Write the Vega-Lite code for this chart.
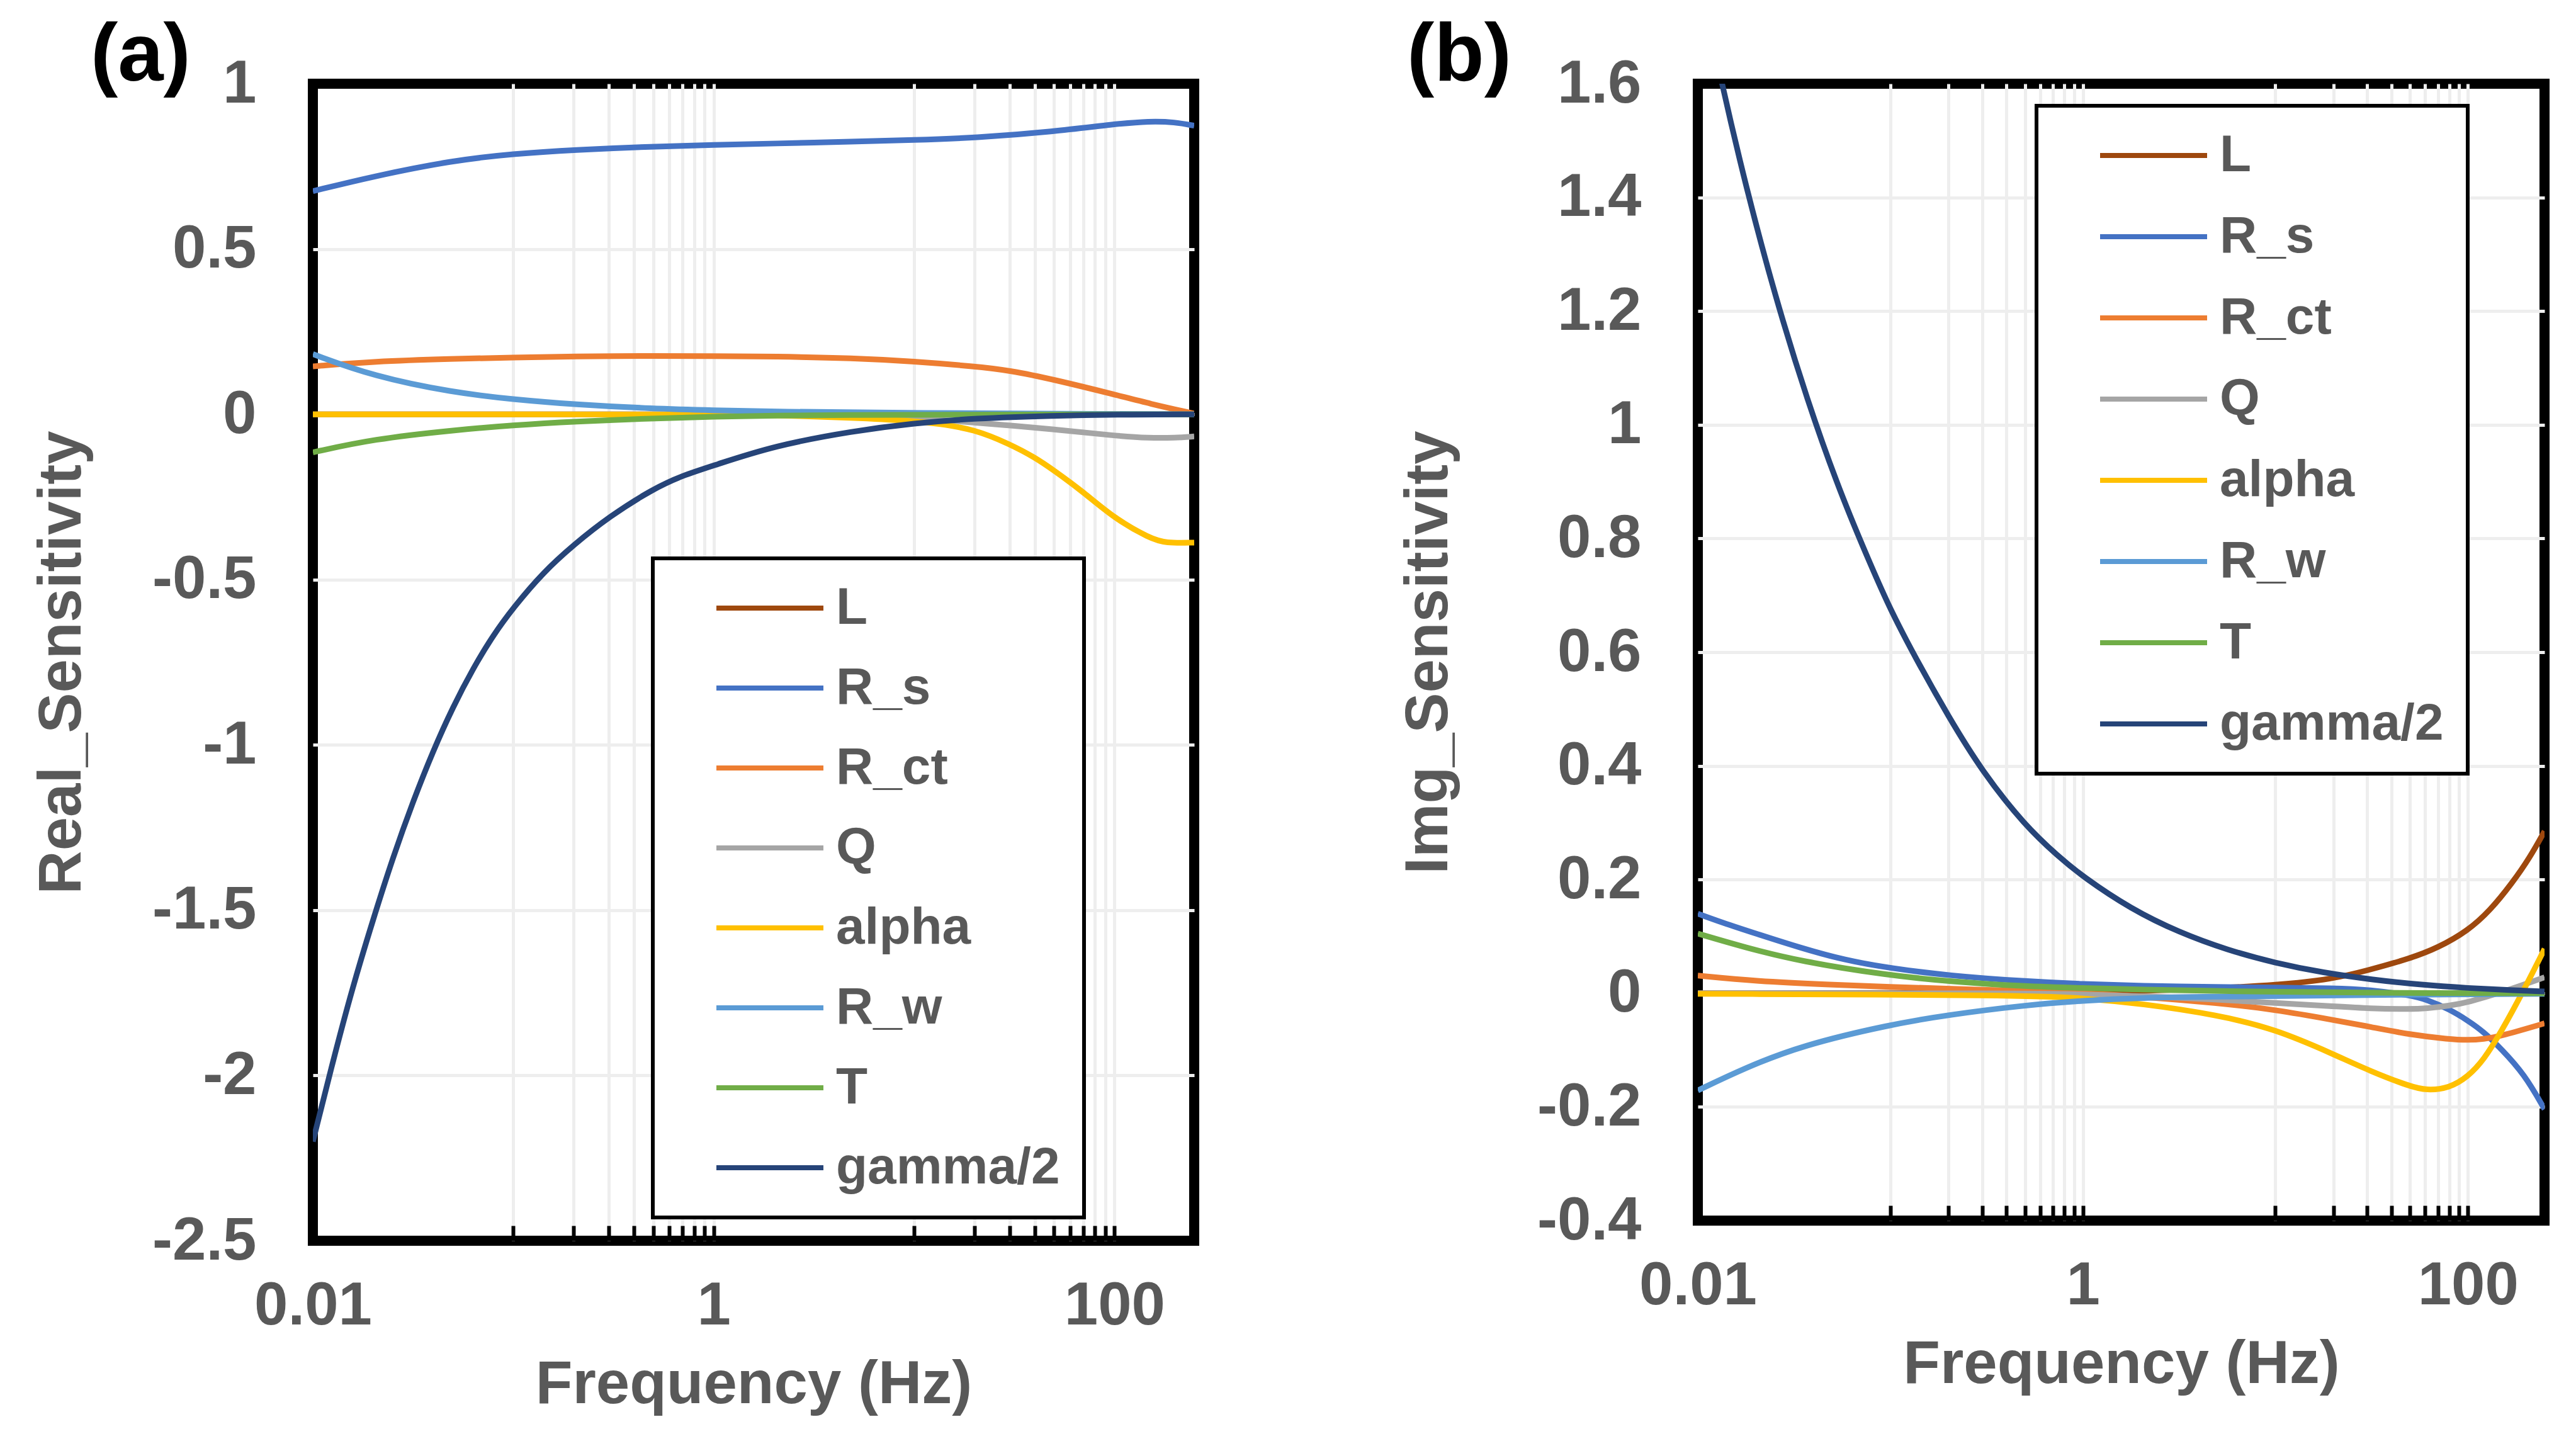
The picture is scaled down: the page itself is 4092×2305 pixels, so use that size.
{
  "$schema": "https://vega.github.io/schema/vega-lite/v6.json",
  "background": "white",
  "padding": {"left": 42, "top": 16, "right": 0, "bottom": 0},
  "datasets": {
    "real": [
      {"s": "L", "f": 0.01, "v": 0}, {"s": "L", "f": 1, "v": 0}, {"s": "L", "f": 250, "v": 0},
      {"s": "R_s", "f": 0.01, "v": 0.675}, {"s": "R_s", "f": 0.02, "v": 0.72}, {"s": "R_s", "f": 0.05, "v": 0.768},
      {"s": "R_s", "f": 0.1, "v": 0.788}, {"s": "R_s", "f": 0.2, "v": 0.8}, {"s": "R_s", "f": 0.5, "v": 0.81},
      {"s": "R_s", "f": 1, "v": 0.815}, {"s": "R_s", "f": 2, "v": 0.819}, {"s": "R_s", "f": 5, "v": 0.825},
      {"s": "R_s", "f": 10, "v": 0.83}, {"s": "R_s", "f": 20, "v": 0.836}, {"s": "R_s", "f": 50, "v": 0.855},
      {"s": "R_s", "f": 100, "v": 0.878}, {"s": "R_s", "f": 150, "v": 0.887}, {"s": "R_s", "f": 200, "v": 0.884},
      {"s": "R_s", "f": 250, "v": 0.873},
      {"s": "R_ct", "f": 0.01, "v": 0.145}, {"s": "R_ct", "f": 0.02, "v": 0.16}, {"s": "R_ct", "f": 0.05, "v": 0.168},
      {"s": "R_ct", "f": 0.1, "v": 0.172}, {"s": "R_ct", "f": 0.2, "v": 0.175}, {"s": "R_ct", "f": 0.5, "v": 0.177},
      {"s": "R_ct", "f": 1, "v": 0.176}, {"s": "R_ct", "f": 2, "v": 0.175}, {"s": "R_ct", "f": 5, "v": 0.17},
      {"s": "R_ct", "f": 10, "v": 0.16}, {"s": "R_ct", "f": 20, "v": 0.145}, {"s": "R_ct", "f": 30, "v": 0.133},
      {"s": "R_ct", "f": 50, "v": 0.105}, {"s": "R_ct", "f": 100, "v": 0.06}, {"s": "R_ct", "f": 150, "v": 0.032},
      {"s": "R_ct", "f": 250, "v": 0.002},
      {"s": "Q", "f": 0.01, "v": 0}, {"s": "Q", "f": 1, "v": 0}, {"s": "Q", "f": 2, "v": -0.002},
      {"s": "Q", "f": 5, "v": -0.005}, {"s": "Q", "f": 10, "v": -0.01}, {"s": "Q", "f": 20, "v": -0.025},
      {"s": "Q", "f": 50, "v": -0.045}, {"s": "Q", "f": 100, "v": -0.065}, {"s": "Q", "f": 150, "v": -0.072},
      {"s": "Q", "f": 200, "v": -0.071}, {"s": "Q", "f": 250, "v": -0.067},
      {"s": "alpha", "f": 0.01, "v": 0}, {"s": "alpha", "f": 1, "v": 0}, {"s": "alpha", "f": 2, "v": -0.003},
      {"s": "alpha", "f": 5, "v": -0.01}, {"s": "alpha", "f": 10, "v": -0.02}, {"s": "alpha", "f": 13, "v": -0.028},
      {"s": "alpha", "f": 20, "v": -0.045}, {"s": "alpha", "f": 30, "v": -0.09}, {"s": "alpha", "f": 40, "v": -0.13},
      {"s": "alpha", "f": 50, "v": -0.17}, {"s": "alpha", "f": 70, "v": -0.235}, {"s": "alpha", "f": 100, "v": -0.315},
      {"s": "alpha", "f": 150, "v": -0.375}, {"s": "alpha", "f": 180, "v": -0.39}, {"s": "alpha", "f": 250, "v": -0.388},
      {"s": "R_w", "f": 0.01, "v": 0.182}, {"s": "R_w", "f": 0.02, "v": 0.115}, {"s": "R_w", "f": 0.05, "v": 0.066},
      {"s": "R_w", "f": 0.1, "v": 0.045}, {"s": "R_w", "f": 0.2, "v": 0.03}, {"s": "R_w", "f": 0.5, "v": 0.017},
      {"s": "R_w", "f": 1, "v": 0.012}, {"s": "R_w", "f": 2, "v": 0.008}, {"s": "R_w", "f": 10, "v": 0.004},
      {"s": "R_w", "f": 100, "v": 0.001}, {"s": "R_w", "f": 250, "v": 0},
      {"s": "T", "f": 0.01, "v": -0.115}, {"s": "T", "f": 0.02, "v": -0.075}, {"s": "T", "f": 0.05, "v": -0.048},
      {"s": "T", "f": 0.1, "v": -0.033}, {"s": "T", "f": 0.2, "v": -0.022}, {"s": "T", "f": 0.5, "v": -0.012},
      {"s": "T", "f": 1, "v": -0.007}, {"s": "T", "f": 2, "v": -0.004}, {"s": "T", "f": 5, "v": -0.002},
      {"s": "T", "f": 10, "v": -0.001}, {"s": "T", "f": 250, "v": 0},
      {"s": "gamma/2", "f": 0.01, "v": -2.2}, {"s": "gamma/2", "f": 0.0126, "v": -1.956}, {"s": "gamma/2", "f": 0.0158, "v": -1.732},
      {"s": "gamma/2", "f": 0.02, "v": -1.527}, {"s": "gamma/2", "f": 0.0251, "v": -1.34}, {"s": "gamma/2", "f": 0.0316, "v": -1.171},
      {"s": "gamma/2", "f": 0.0398, "v": -1.018}, {"s": "gamma/2", "f": 0.0501, "v": -0.884}, {"s": "gamma/2", "f": 0.0631, "v": -0.768},
      {"s": "gamma/2", "f": 0.0794, "v": -0.668}, {"s": "gamma/2", "f": 0.1, "v": -0.585}, {"s": "gamma/2", "f": 0.141, "v": -0.478},
      {"s": "gamma/2", "f": 0.2, "v": -0.395}, {"s": "gamma/2", "f": 0.3, "v": -0.31}, {"s": "gamma/2", "f": 0.5, "v": -0.225},
      {"s": "gamma/2", "f": 0.7, "v": -0.185}, {"s": "gamma/2", "f": 1, "v": -0.155}, {"s": "gamma/2", "f": 2, "v": -0.095},
      {"s": "gamma/2", "f": 5, "v": -0.05}, {"s": "gamma/2", "f": 10, "v": -0.027}, {"s": "gamma/2", "f": 20, "v": -0.012},
      {"s": "gamma/2", "f": 50, "v": -0.004}, {"s": "gamma/2", "f": 100, "v": -0.001}, {"s": "gamma/2", "f": 250, "v": 0}
    ],
    "img": [
      {"s": "L", "f": 0.01, "v": 0}, {"s": "L", "f": 1, "v": 0.001}, {"s": "L", "f": 2, "v": 0.004},
      {"s": "L", "f": 5, "v": 0.009}, {"s": "L", "f": 10, "v": 0.014}, {"s": "L", "f": 20, "v": 0.025},
      {"s": "L", "f": 30, "v": 0.04}, {"s": "L", "f": 50, "v": 0.061}, {"s": "L", "f": 70, "v": 0.08},
      {"s": "L", "f": 100, "v": 0.11}, {"s": "L", "f": 130, "v": 0.145}, {"s": "L", "f": 170, "v": 0.194},
      {"s": "L", "f": 210, "v": 0.239}, {"s": "L", "f": 250, "v": 0.285},
      {"s": "R_s", "f": 0.01, "v": 0.14}, {"s": "R_s", "f": 0.0132, "v": 0.125}, {"s": "R_s", "f": 0.02, "v": 0.105},
      {"s": "R_s", "f": 0.034, "v": 0.08}, {"s": "R_s", "f": 0.058, "v": 0.058}, {"s": "R_s", "f": 0.1, "v": 0.044},
      {"s": "R_s", "f": 0.2, "v": 0.031}, {"s": "R_s", "f": 0.5, "v": 0.021}, {"s": "R_s", "f": 1, "v": 0.016},
      {"s": "R_s", "f": 2, "v": 0.013}, {"s": "R_s", "f": 5, "v": 0.011}, {"s": "R_s", "f": 10, "v": 0.01},
      {"s": "R_s", "f": 20, "v": 0.009}, {"s": "R_s", "f": 31, "v": 0.0064}, {"s": "R_s", "f": 50, "v": -0.0035},
      {"s": "R_s", "f": 61, "v": -0.011}, {"s": "R_s", "f": 80, "v": -0.028}, {"s": "R_s", "f": 100, "v": -0.048},
      {"s": "R_s", "f": 121, "v": -0.068}, {"s": "R_s", "f": 149, "v": -0.098}, {"s": "R_s", "f": 196, "v": -0.142},
      {"s": "R_s", "f": 250, "v": -0.204},
      {"s": "R_ct", "f": 0.01, "v": 0.031}, {"s": "R_ct", "f": 0.02, "v": 0.021}, {"s": "R_ct", "f": 0.05, "v": 0.015},
      {"s": "R_ct", "f": 0.1, "v": 0.011}, {"s": "R_ct", "f": 0.2, "v": 0.008}, {"s": "R_ct", "f": 0.5, "v": 0.004},
      {"s": "R_ct", "f": 1, "v": 0.0005}, {"s": "R_ct", "f": 2, "v": -0.006}, {"s": "R_ct", "f": 5, "v": -0.017},
      {"s": "R_ct", "f": 10, "v": -0.029}, {"s": "R_ct", "f": 20, "v": -0.047}, {"s": "R_ct", "f": 31, "v": -0.059},
      {"s": "R_ct", "f": 50, "v": -0.073}, {"s": "R_ct", "f": 80, "v": -0.081}, {"s": "R_ct", "f": 100, "v": -0.0825},
      {"s": "R_ct", "f": 120, "v": -0.081}, {"s": "R_ct", "f": 150, "v": -0.075}, {"s": "R_ct", "f": 250, "v": -0.053},
      {"s": "Q", "f": 0.01, "v": 0}, {"s": "Q", "f": 0.5, "v": 0}, {"s": "Q", "f": 1, "v": -0.002},
      {"s": "Q", "f": 2, "v": -0.005}, {"s": "Q", "f": 5, "v": -0.011}, {"s": "Q", "f": 10, "v": -0.017},
      {"s": "Q", "f": 20, "v": -0.023}, {"s": "Q", "f": 31, "v": -0.027}, {"s": "Q", "f": 50, "v": -0.028},
      {"s": "Q", "f": 61, "v": -0.027}, {"s": "Q", "f": 80, "v": -0.022}, {"s": "Q", "f": 100, "v": -0.016},
      {"s": "Q", "f": 150, "v": 0.0015}, {"s": "Q", "f": 250, "v": 0.028},
      {"s": "alpha", "f": 0.01, "v": -0.001}, {"s": "alpha", "f": 0.5, "v": -0.0035}, {"s": "alpha", "f": 1, "v": -0.0085},
      {"s": "alpha", "f": 2, "v": -0.018}, {"s": "alpha", "f": 5, "v": -0.038}, {"s": "alpha", "f": 10, "v": -0.063},
      {"s": "alpha", "f": 20, "v": -0.107}, {"s": "alpha", "f": 31, "v": -0.137}, {"s": "alpha", "f": 50, "v": -0.164},
      {"s": "alpha", "f": 61, "v": -0.171}, {"s": "alpha", "f": 80, "v": -0.167}, {"s": "alpha", "f": 100, "v": -0.147},
      {"s": "alpha", "f": 121, "v": -0.117}, {"s": "alpha", "f": 149, "v": -0.068}, {"s": "alpha", "f": 196, "v": 0.0065},
      {"s": "alpha", "f": 250, "v": 0.078},
      {"s": "R_w", "f": 0.01, "v": -0.171}, {"s": "R_w", "f": 0.0174, "v": -0.132}, {"s": "R_w", "f": 0.0344, "v": -0.092},
      {"s": "R_w", "f": 0.1, "v": -0.055}, {"s": "R_w", "f": 0.2, "v": -0.038}, {"s": "R_w", "f": 0.5, "v": -0.021},
      {"s": "R_w", "f": 1, "v": -0.013}, {"s": "R_w", "f": 2, "v": -0.008}, {"s": "R_w", "f": 5, "v": -0.006},
      {"s": "R_w", "f": 10, "v": -0.005}, {"s": "R_w", "f": 31, "v": -0.003}, {"s": "R_w", "f": 250, "v": -0.001},
      {"s": "T", "f": 0.01, "v": 0.105}, {"s": "T", "f": 0.0174, "v": 0.081}, {"s": "T", "f": 0.034, "v": 0.056},
      {"s": "T", "f": 0.1, "v": 0.031}, {"s": "T", "f": 0.2, "v": 0.021}, {"s": "T", "f": 0.5, "v": 0.012},
      {"s": "T", "f": 1, "v": 0.009}, {"s": "T", "f": 2, "v": 0.0064}, {"s": "T", "f": 5, "v": 0.004},
      {"s": "T", "f": 10, "v": 0.0025}, {"s": "T", "f": 30, "v": 0.0005}, {"s": "T", "f": 250, "v": 0},
      {"s": "gamma/2", "f": 0.01, "v": 1.8}, {"s": "gamma/2", "f": 0.0133, "v": 1.6}, {"s": "gamma/2", "f": 0.0178, "v": 1.418},
      {"s": "gamma/2", "f": 0.0252, "v": 1.226}, {"s": "gamma/2", "f": 0.0371, "v": 1.042}, {"s": "gamma/2", "f": 0.0549, "v": 0.88},
      {"s": "gamma/2", "f": 0.081, "v": 0.745}, {"s": "gamma/2", "f": 0.1, "v": 0.675}, {"s": "gamma/2", "f": 0.135, "v": 0.59},
      {"s": "gamma/2", "f": 0.2, "v": 0.487}, {"s": "gamma/2", "f": 0.3, "v": 0.39}, {"s": "gamma/2", "f": 0.5, "v": 0.295},
      {"s": "gamma/2", "f": 0.75, "v": 0.24}, {"s": "gamma/2", "f": 1, "v": 0.205}, {"s": "gamma/2", "f": 1.78, "v": 0.148},
      {"s": "gamma/2", "f": 3.16, "v": 0.107}, {"s": "gamma/2", "f": 5.62, "v": 0.076}, {"s": "gamma/2", "f": 10, "v": 0.053},
      {"s": "gamma/2", "f": 17.8, "v": 0.036}, {"s": "gamma/2", "f": 31.6, "v": 0.024}, {"s": "gamma/2", "f": 56.2, "v": 0.015},
      {"s": "gamma/2", "f": 100, "v": 0.009}, {"s": "gamma/2", "f": 178, "v": 0.005}, {"s": "gamma/2", "f": 250, "v": 0.003}
    ]
  },
  "hconcat": [
    {
      "title": {"text": "(a)", "dx": 94, "offset": -70},
      "width": 1400,
      "height": 1838,
      "data": {"name": "real"},
      "mark": {"type": "line", "interpolate": "basis", "strokeWidth": 9, "clip": true},
      "encoding": {
        "x": {
          "field": "f",
          "type": "quantitative",
          "title": "Frequency (Hz)",
          "scale": {"type": "log", "domain": [0.01, 250], "nice": false},
          "axis": {"values": [0.01, 0.1, 0.2, 0.3, 0.4, 0.5, 0.6, 0.7, 0.8, 0.9, 1, 10, 20, 30, 40, 50, 60, 70, 80, 90, 100]}
        },
        "y": {
          "field": "v",
          "type": "quantitative",
          "title": "Real_Sensitivity",
          "scale": {"domain": [-2.5, 1], "nice": false, "zero": false},
          "axis": {
            "values": [-2.5, -2, -1.5, -1, -0.5, 0, 0.5, 1],
            "titlePadding": 150,
            "gridColor": {"condition": {"test": "datum.value == 1 || datum.value == -2.5", "value": "transparent"}, "value": "#EEEEEE"}
          }
        },
        "color": {
          "field": "s",
          "type": "nominal",
          "sort": null,
          "scale": {
            "domain": ["L", "R_s", "R_ct", "Q", "alpha", "R_w", "T", "gamma/2"],
            "range": ["#9E480E", "#4472C4", "#ED7D31", "#A5A5A5", "#FFC000", "#5B9BD5", "#70AD47", "#264478"]
          },
          "legend": {"legendX": 540, "legendY": 754, "rowPadding": 45}
        }
      }
    },
    {
      "title": {"text": "(b)", "dx": 14, "offset": -70},
      "width": 1345,
      "height": 1806,
      "data": {"name": "img"},
      "mark": {"type": "line", "interpolate": "basis", "strokeWidth": 9, "clip": true},
      "encoding": {
        "x": {
          "field": "f",
          "type": "quantitative",
          "title": "Frequency (Hz)",
          "scale": {"type": "log", "domain": [0.01, 250], "nice": false},
          "axis": {"values": [0.01, 0.1, 0.2, 0.3, 0.4, 0.5, 0.6, 0.7, 0.8, 0.9, 1, 10, 20, 30, 40, 50, 60, 70, 80, 90, 100]}
        },
        "y": {
          "field": "v",
          "type": "quantitative",
          "title": "Img_Sensitivity",
          "scale": {"domain": [-0.4, 1.6], "nice": false, "zero": false},
          "axis": {
            "values": [-0.4, -0.2, 0, 0.2, 0.4, 0.6, 0.8, 1, 1.2, 1.4, 1.6],
            "titlePadding": 179,
            "gridColor": {"condition": {"test": "datum.value == 1.6 || datum.value == -0.4", "value": "transparent"}, "value": "#EEEEEE"}
          }
        },
        "color": {
          "field": "s",
          "type": "nominal",
          "sort": null,
          "scale": {
            "domain": ["L", "R_s", "R_ct", "Q", "alpha", "R_w", "T", "gamma/2"],
            "range": ["#9E480E", "#4472C4", "#ED7D31", "#A5A5A5", "#FFC000", "#5B9BD5", "#70AD47", "#264478"]
          },
          "legend": {"legendX": 538, "legendY": 35, "rowPadding": 47}
        }
      }
    }
  ],
  "spacing": 308,
  "resolve": {"legend": {"color": "independent"}},
  "config": {
    "font": "Liberation Sans",
    "view": {"stroke": "black", "strokeWidth": 16},
    "title": {
      "font": "Liberation Sans",
      "fontSize": 130,
      "fontWeight": "bold",
      "color": "black",
      "anchor": "start",
      "frame": "bounds"
    },
    "axis": {
      "labelFont": "Liberation Sans",
      "labelFontSize": 96,
      "labelFontWeight": "bold",
      "labelColor": "#595959",
      "labelLimit": 600,
      "titleFont": "Liberation Sans",
      "titleFontSize": 96,
      "titleFontWeight": "bold",
      "titleColor": "#595959",
      "gridColor": "#EEEEEE",
      "gridWidth": 5,
      "domain": false
    },
    "axisX": {
      "labelExpr": "datum.value == 0.01 || datum.value == 1 || datum.value == 100 ? '' + datum.value : ''",
      "gridColor": {"condition": {"test": "datum.value == 0.01", "value": "transparent"}, "value": "#EEEEEE"},
      "tickSize": -24,
      "tickWidth": 6,
      "tickColor": "black",
      "labelPadding": 80,
      "labelOverlap": false,
      "labelFlush": false,
      "labelBound": false,
      "titlePadding": 30
    },
    "axisY": {
      "labelExpr": "'' + datum.value",
      "ticks": false,
      "labelPadding": 90,
      "labelOverlap": false,
      "labelFlush": false
    },
    "legend": {
      "orient": "none",
      "title": null,
      "padding": 38,
      "symbolType": "stroke",
      "symbolSize": 28900,
      "symbolStrokeWidth": 8,
      "clipHeight": 82,
      "symbolOffset": 59,
      "labelOffset": 16,
      "labelFont": "Liberation Sans",
      "labelFontSize": 82,
      "labelFontWeight": "bold",
      "labelColor": "#595959",
      "labelLimit": 1000,
      "strokeColor": "black",
      "strokeWidth": 6,
      "fillColor": "white"
    }
  }
}
